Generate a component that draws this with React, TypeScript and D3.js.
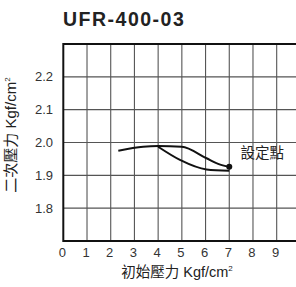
import { useMemo } from 'react';
import { scaleLinear, line, curveMonotoneX } from 'd3';

const title = 'UFR-400-03';
const xTicks = [0, 1, 2, 3, 4, 5, 6, 7, 8, 9];
const yTicks = [1.8, 1.9, 2.0, 2.1, 2.2];
const yGrid = [1.8, 1.9, 2.0, 2.1, 2.2];

// upper branch (decreasing inlet pressure)
const upperX = [2.32, 3.37, 4.0, 4.99, 6.04, 6.53, 7.0];
const upperY = [1.975, 1.987, 1.989, 1.987, 1.952, 1.935, 1.926];
// lower branch
const lowerX = [4.0, 4.92, 6.04, 7.0];
const lowerY = [1.987, 1.947, 1.918, 1.914];

const setPoint = { x: 7.0, y: 1.926, label: '設定點' };

const W = 296;
const H = 287;
const margin = { left: 63.3, top: 44, bottom: 241 };

const cjk = '"Liberation Sans", Arial, "Noto Sans CJK TC", sans-serif';

const App = () => {
  const xScale = useMemo(
    () => scaleLinear().domain([0, 10]).range([margin.left, margin.left + 237.1]),
    []
  );
  const yScale = useMemo(
    () => scaleLinear().domain([1.7, 2.3]).range([margin.bottom, margin.top]),
    []
  );

  const path = line<[number, number]>()
    .x((d) => xScale(d[0]))
    .y((d) => yScale(d[1]))
    .curve(curveMonotoneX);

  const upper = upperX.map((v, i) => [v, upperY[i]] as [number, number]);
  const lower = lowerX.map((v, i) => [v, lowerY[i]] as [number, number]);

  return (
    <svg
      width={W}
      height={H}
      style={{ position: 'absolute', left: 0, top: 0, background: '#fff' }}
    >
      <text
        x={63}
        y={26}
        fontFamily='"Liberation Sans", Arial, sans-serif'
        fontWeight="bold"
        fontSize={19.5}
        letterSpacing={1.5}
        fill="#222"
      >
        {title}
      </text>

      {/* vertical grid */}
      {xTicks.slice(1).concat([10]).map((t) => (
        <line
          key={'vx' + t}
          x1={xScale(t)}
          x2={xScale(t)}
          y1={margin.top}
          y2={margin.bottom}
          stroke="#555"
          strokeWidth={1.1}
        />
      ))}
      {/* horizontal grid */}
      {yGrid.map((t) => (
        <line
          key={'hy' + t}
          x1={margin.left}
          x2={W}
          y1={yScale(t)}
          y2={yScale(t)}
          stroke="#555"
          strokeWidth={1.1}
        />
      ))}

      {/* frame */}
      <line x1={margin.left} x2={W} y1={margin.top} y2={margin.top} stroke="#111" strokeWidth={2} />
      <line x1={margin.left} x2={W} y1={margin.bottom} y2={margin.bottom} stroke="#111" strokeWidth={2} />
      <line x1={margin.left} x2={margin.left} y1={margin.top - 1} y2={margin.bottom + 1} stroke="#111" strokeWidth={2} />

      {/* tick labels */}
      {yTicks.map((t) => (
        <text
          key={'yt' + t}
          x={53}
          y={yScale(t) + 4.6}
          textAnchor="end"
          fontFamily={cjk}
          fontSize={13}
          fill="#333"
        >
          {t.toFixed(1)}
        </text>
      ))}
      {xTicks.map((t) => (
        <text
          key={'xt' + t}
          x={xScale(t) - 1}
          y={256.5}
          textAnchor="middle"
          fontFamily={cjk}
          fontSize={13}
          fill="#333"
        >
          {t}
        </text>
      ))}

      {/* axis titles */}
      <text x={177} y={277} textAnchor="middle" fontFamily={cjk} fontSize={14.5} fill="#222">
        初始壓力 Kgf/cm<tspan fontSize={8} dy={-6}>2</tspan>
      </text>
      <text
        transform="translate(16,135) rotate(-90)"
        textAnchor="middle"
        fontFamily={cjk}
        fontSize={15}
        fill="#222"
      >
        二次壓力 Kgf/cm<tspan fontSize={8} dy={-6}>2</tspan>
      </text>

      {/* curves */}
      <path d={path(upper) || ''} fill="none" stroke="#111" strokeWidth={2} />
      <path d={path(lower) || ''} fill="none" stroke="#111" strokeWidth={2} />
      <circle cx={xScale(setPoint.x)} cy={yScale(setPoint.y)} r={3} fill="#111" />

      <text x={240.5} y={158} fontFamily={cjk} fontSize={14.5} fill="#222">
        {setPoint.label}
      </text>
    </svg>
  );
};

export default App;
